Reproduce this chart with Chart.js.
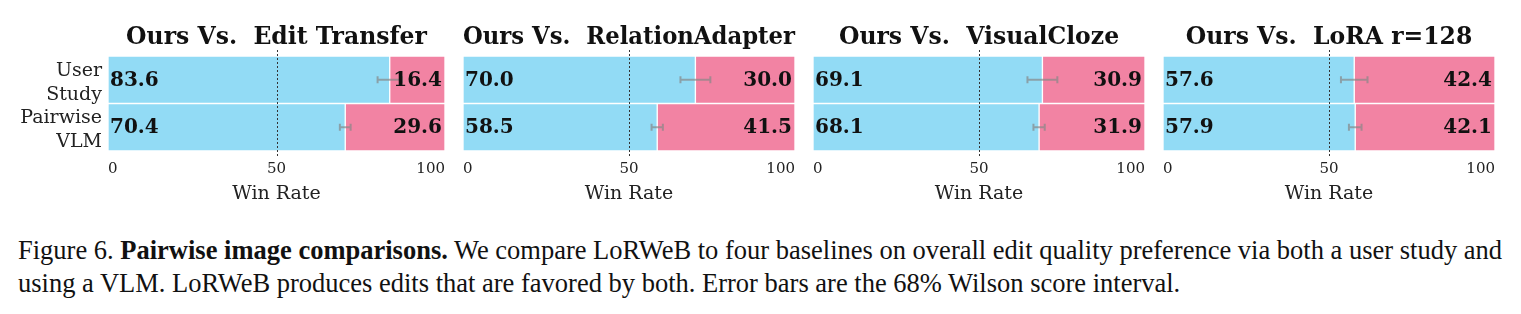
<!DOCTYPE html>
<html>
<head>
<meta charset="utf-8">
<script src="https://cdn.jsdelivr.net/npm/chart.js@4"></script>
<style>
  body { margin: 0; background: #fff; }
  #wrap { position: relative; width: 1521px; height: 314px; overflow: hidden; }
  canvas { position: absolute; top: 0; }
  #caption {
    position: absolute; left: 18px; top: 234px; width: 1500px;
    font-family: "Liberation Serif", serif; font-size: 26.5px; line-height: 33px;
    color: #111; white-space: nowrap;
  }
</style>
</head>
<body>
<div id="wrap">
  <canvas id="c0" width="454" height="210" style="left:0px"></canvas>
  <canvas id="c1" width="350" height="210" style="left:454px"></canvas>
  <canvas id="c2" width="350" height="210" style="left:804px"></canvas>
  <canvas id="c3" width="350" height="210" style="left:1154px"></canvas>
  <div id="caption">Figure 6. <b>Pairwise image comparisons.</b> We compare LoRWeB to four baselines on overall edit quality preference via both a user study and<br>using a VLM. LoRWeB produces edits that are favored by both. Error bars are the 68% Wilson score interval.</div>
</div>
<script>
// data
const categories = [["User", "Study"], ["Pairwise", "VLM"]];
const baselines = ["Edit Transfer", "RelationAdapter", "VisualCloze", "LoRA r=128"];
const oursWin = [[83.6, 70.4], [70.0, 58.5], [69.1, 68.1], [57.6, 57.9]];
const baseWin = [[16.4, 29.6], [30.0, 41.5], [30.9, 31.9], [42.4, 42.1]];
const errHalf = [[3.6, 1.6], [4.5, 1.7], [4.5, 1.7], [4.0, 1.9]];
const xTicks = [0, 50, 100];

const serif = "'DejaVu Serif', serif";

// dashed 50% line, error bars and value labels
const overlay = {
  id: 'overlay',
  afterDatasetsDraw(chart, args, opts) {
    const { ctx, chartArea: a, scales: { x, y } } = chart;
    const p = opts.panel;
    ctx.save();

    const xm = x.getPixelForValue(50);
    ctx.strokeStyle = '#333';
    ctx.lineWidth = 1;
    ctx.setLineDash([2, 2]);
    ctx.beginPath();
    ctx.moveTo(Math.round(xm) + 0.5, a.top - 6);
    ctx.lineTo(Math.round(xm) + 0.5, a.bottom + 5);
    ctx.stroke();
    ctx.setLineDash([]);

    ctx.strokeStyle = 'rgba(135,135,135,0.7)';
    ctx.lineWidth = 2;
    oursWin[p].forEach((v, i) => {
      const yc = y.getPixelForValue(i);
      const x1 = x.getPixelForValue(v - errHalf[p][i]);
      const x2 = x.getPixelForValue(v + errHalf[p][i]);
      ctx.beginPath();
      ctx.moveTo(x1, yc); ctx.lineTo(x2, yc);
      ctx.moveTo(x1, yc - 3.5); ctx.lineTo(x1, yc + 3.5);
      ctx.moveTo(x2, yc - 3.5); ctx.lineTo(x2, yc + 3.5);
      ctx.stroke();
    });

    ctx.fillStyle = '#111';
    ctx.font = 'bold 20px ' + serif;
    ctx.textBaseline = 'middle';
    oursWin[p].forEach((v, i) => {
      const yc = y.getPixelForValue(i) + 1;
      ctx.textAlign = 'left';
      ctx.fillText(v.toFixed(1), x.getPixelForValue(0) + 2, yc);
      ctx.textAlign = 'right';
      ctx.fillText(baseWin[p][i].toFixed(1), x.getPixelForValue(100) - 3, yc);
    });
    ctx.restore();
  }
};

baselines.forEach((name, p) => {
  const first = p === 0;
  new Chart(document.getElementById('c' + p), {
    type: 'bar',
    data: {
      labels: categories,
      datasets: [{
        label: 'Ours',
        data: oursWin[p],
        backgroundColor: '#92dbf5',
        borderColor: '#ffffff',
        borderWidth: 1,
        borderSkipped: false
      }, {
        label: name,
        data: baseWin[p],
        backgroundColor: '#f283a3',
        borderColor: '#ffffff',
        borderWidth: 1,
        borderSkipped: false
      }]
    },
    options: {
      indexAxis: 'y',
      responsive: false,
      animation: false,
      barPercentage: 1,
      categoryPercentage: 1,
      layout: { padding: { left: first ? 0 : 4, right: 4, top: 0, bottom: 0 } },
      plugins: {
        legend: { display: false },
        tooltip: { enabled: false },
        title: {
          display: true,
          fullSize: false,
          text: 'Ours Vs.  ' + name,
          color: '#111',
          font: { family: serif, size: 23.5, weight: 'bold', lineHeight: 1 },
          padding: { top: 26, bottom: 6.5 }
        },
        overlay: { panel: p }
      },
      scales: {
        x: {
          stacked: true,
          min: 0,
          max: 100,
          afterBuildTicks: s => { s.ticks = xTicks.map(v => ({ value: v })); },
          afterFit: s => { s.height = 59; },
          grid: { display: false, drawTicks: false },
          border: { display: false },
          ticks: { align: 'inner', padding: 9, color: '#222', font: { family: serif, size: 15 } },
          title: {
            display: true,
            text: 'Win Rate',
            color: '#222',
            font: { family: serif, size: 19, lineHeight: 1.2 },
            padding: { top: 0, bottom: 5 }
          }
        },
        y: {
          stacked: true,
          display: first,
          afterFit: s => { if (first) s.width = 108; },
          grid: { display: false, drawTicks: false },
          border: { display: false },
          ticks: { autoSkip: false, padding: 6, labelOffset: 3, color: '#222', font: { family: serif, size: 19, lineHeight: 1.25 } }
        }
      }
    },
    plugins: [overlay]
  });
});
</script>
</body>
</html>
